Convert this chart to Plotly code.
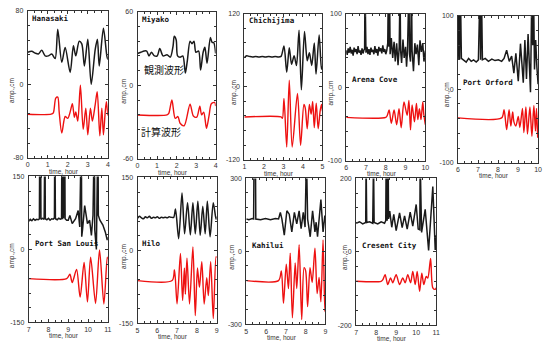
import plotly.graph_objects as go

# ---------------- data (hours, cm) ----------------
hanasaki_obs_t = [0, 0.2, 0.37, 0.53, 0.7, 0.87, 1.03, 1.2, 1.37, 1.5, 1.7, 1.87, 2.12, 2.28, 2.4, 2.57, 2.7, 2.83, 3.0, 3.17, 3.37, 3.48, 3.57, 3.78, 3.95, 4.0]
hanasaki_obs_v = [35, 36, 34, 33, 37, 31, 31, 33, 28, 60, 24, 40, 13, 42, 31, 47, 44, 20, 49, 0, 38, 49, 20, 61, 31, 27]
hanasaki_calc_t = [0, 1.17, 1.28, 1.4, 1.5, 1.57, 1.7, 1.87, 2.0, 2.12, 2.23, 2.33, 2.4, 2.5, 2.63, 2.77, 2.9, 3.0, 3.13, 3.23, 3.37, 3.47, 3.6, 3.7, 3.78, 3.87, 3.93, 4.0]
hanasaki_calc_v = [-32.5, -32.5, -31, -15, -14, -30, -53, -35, -37, -30, -21, -36, -30, -40, -1, -49, -26, -55, -26, -40, -22, -8, -56, -26, -55, -30, -19, -34]

miyako_obs_t = [0.0, 0.17, 0.34, 0.47, 0.59, 0.71, 0.87, 1.01, 1.14, 1.31, 1.51, 1.68, 1.82, 1.88, 1.98, 2.05, 2.18, 2.32, 2.45, 2.55, 2.69, 2.79, 2.89, 2.99, 3.13, 3.23, 3.36, 3.45, 3.56, 3.73, 3.82, 3.9, 4.0]
miyako_obs_v = [26, 27, 28, 28, 24, 27, 24, 24, 30, 24, 25, 23, 32, 40, 37, 24, 23, 24, 10, 20, 36, 34, 36, 27, 28, 12.5, 27, 31, 18, 39, 35, 35, 26]
miyako_calc_t = [0, 1.51, 1.6, 1.76, 1.93, 2.07, 2.18, 2.39, 2.69, 2.86, 3.03, 3.19, 3.28, 3.39, 3.53, 3.66, 3.78, 3.95, 4.0]
miyako_calc_v = [-24.2, -24.2, -23, -12, -27, -25.5, -31, -33, -15.4, -25, -26, -17, -24, -22, -35, -25, -15, -14, -17]

chichijima_obs_t = [1.0, 1.12, 1.25, 1.42, 1.58, 1.75, 1.92, 2.08, 2.25, 2.42, 2.58, 2.75, 2.88, 3.03, 3.17, 3.3, 3.42, 3.55, 3.67, 3.8, 3.92, 4.08, 4.22, 4.33, 4.45, 4.58, 4.67, 4.83, 4.95, 5.0]
chichijima_obs_v = [48, 51, 50, 49, 50, 49, 50, 49, 50, 49, 50, 49, 50, 67, 24, 64, 37, 51, 35, 93, -5, 91, 43, 56, 35, 72, 21, 85, 29, 34]
chichijima_calc_t = [1.0, 2.88, 2.95, 3.03, 3.17, 3.3, 3.45, 3.72, 3.88, 4.05, 4.12, 4.22, 4.33, 4.42, 4.5, 4.58, 4.68, 4.78, 4.88, 4.95, 5.0]
chichijima_calc_v = [-49.6, -49.6, -52, -19, -99, 11, -99, -11, -96, -29, -35, -69, -29, -45, -24, -67, -27, -69, -40, -29, -40]

arena_obs_t = [6.00, 6.05, 6.10, 6.15, 6.20, 6.25, 6.30, 6.35, 6.40, 6.45, 6.50, 6.55, 6.60, 6.65, 6.70, 6.75, 6.80, 6.85, 6.90, 6.93, 6.95, 6.97,
               7.00, 7.05, 7.10, 7.15, 7.20, 7.25, 7.30, 7.35, 7.40, 7.45, 7.50, 7.55, 7.60, 7.65, 7.70, 7.75, 7.80, 7.85, 7.90, 7.95, 8.00, 8.05,
               8.10, 8.13, 8.16, 8.19, 8.22, 8.28, 8.35, 8.42, 8.48, 8.55, 8.62, 8.68, 8.72, 8.75, 8.80, 8.87, 8.93, 9.00, 9.05, 9.10, 9.17, 9.20,
               9.25, 9.30, 9.33, 9.40, 9.47, 9.53, 9.60, 9.67, 9.73, 9.80, 9.87, 9.93, 10.0]
arena_obs_v = [50, 44, 53, 47, 55, 46, 51, 43, 54, 48, 52, 45, 56, 47, 50, 44, 53, 46, 51, 52, 140, 50,
               47, 55, 45, 52, 44, 54, 48, 51, 45, 56, 47, 52, 43, 55, 49, 53, 46, 57, 48, 52, 45, 50,
               60, 140, 55, 140, 45, 67, 40, 62, 35, 60, 30, 55, 140, 50, 33, 65, 40, 55, 28, 50, 140, 45,
               35, 140, 50, 22, 60, 45, 58, 30, 64, 48, 60, 35, 50]
arena_calc_t = [6.0, 8.0, 8.08, 8.17, 8.28, 8.42, 8.55, 8.67, 8.78, 8.92, 9.08, 9.17, 9.25, 9.33, 9.45, 9.55, 9.62, 9.7, 9.78, 9.87, 9.92, 10.0]
arena_calc_v = [-41, -41, -38, -31, -49, -31, -51, -29, -55, -20, -38, -18, -58, -24, -47, -22, -44, -29, -44, -20, -36, -51]

orford_obs_t = [6.0, 6.05, 6.08, 6.12, 6.17, 6.28, 6.41, 6.53, 6.66, 6.78, 6.91, 7.02, 7.1, 7.13, 7.17, 7.22, 7.36, 7.52, 7.69, 7.85, 8.02, 8.18, 8.3, 8.43, 8.56, 8.68, 8.79, 8.89, 9.01, 9.12, 9.26, 9.34, 9.42, 9.5, 9.62, 9.69, 9.73, 9.77, 9.82, 9.88, 9.94, 10.0]
orford_obs_v = [40, 140, 40, 140, 42, 40, 37, 42, 38, 40, 37, 40, 140, 40, 140, 40, 42, 38, 41, 39, 40, 38, 42, 53, 38, 45, 22, 49, 11, 62, 9, 67, 14, 75, -4, 140, 60, 140, 27, 67, 30, 7]
orford_calc_t = [6.0, 8.18, 8.3, 8.43, 8.55, 8.64, 8.73, 8.79, 8.89, 9.01, 9.09, 9.22, 9.29, 9.39, 9.47, 9.59, 9.69, 9.79, 9.87, 9.92, 9.98]
orford_calc_v = [-39, -39, -28, -55, -28, -50, -31, -44, -50, -37, -52, -26, -59, -24, -61, -24, -64, -22, -57, -26, -66]

psl_obs_t = [7.0, 7.08, 7.16, 7.24, 7.32, 7.4, 7.48, 7.54, 7.56, 7.6, 7.62, 7.7, 7.78, 7.82, 7.84, 7.92, 8.0, 8.08, 8.16, 8.24, 8.3, 8.32, 8.35, 8.44, 8.52, 8.6, 8.66, 8.68, 8.71, 8.73, 8.76, 8.82, 8.84, 8.92,
             9.0, 9.08, 9.2, 9.37, 9.5, 9.58, 9.66, 9.68, 9.72, 9.83, 9.97, 10.08, 10.17, 10.25, 10.32, 10.34, 10.42, 10.46, 10.5, 10.52, 10.6, 10.75, 10.87, 10.97, 11.0]
psl_obs_v = [58, 62, 59, 63, 60, 62, 61, 63, 250, 250, 62, 64, 62, 250, 63, 61, 64, 60, 63, 62, 65, 250, 63, 61, 64, 62, 63, 250, 62, 250, 64, 250, 63, 60,
             60, 70, 53, 63, 80, 46, 250, 26, 40, 90, 53, 60, 29, 70, 250, 40, 0, 250, 250, 70, 60, 50, 36, 19, 25]
psl_calc_t = [7.0, 8.92, 9.08, 9.2, 9.42, 9.6, 9.8, 9.97, 10.13, 10.38, 10.58, 10.8, 10.97, 11.0]
psl_calc_v = [-60, -60, -51, -68, -41, -98, -27, -108, -16, -111, -1, -112, -16, -20]

hilo_obs_t = [5.0, 5.1, 5.2, 5.3, 5.4, 5.5, 5.6, 5.7, 5.8, 5.9, 6.0, 6.1, 6.2, 6.3, 6.4, 6.5, 6.6, 6.7, 6.83, 6.92, 7.08, 7.25, 7.38, 7.53, 7.67, 7.8, 7.92, 8.05, 8.17, 8.3, 8.42, 8.53, 8.67, 8.83, 8.97, 9.0]
hilo_obs_v = [66, 70, 67, 65, 69, 67, 70, 66, 68, 67, 69, 66, 68, 67, 68, 67, 69, 68, 68, 85, 24, 118, 34, 98, 32, 98, 34, 101, 31, 91, 34, 101, 28, 98, 64, 70]
hilo_calc_t = [5.0, 6.75, 6.87, 7.0, 7.17, 7.28, 7.37, 7.42, 7.5, 7.63, 7.8, 7.92, 8.03, 8.13, 8.25, 8.37, 8.5, 8.58, 8.7, 8.83, 8.97, 9.0]
hilo_calc_v = [-62, -62, -40, -110, -6, -103, -36, -90, -16, -110, 7, -134, -36, -76, -23, -110, -56, -93, -23, -140, -13, -15]

kahului_obs_t = [5.0, 5.13, 5.3, 5.37, 5.39, 5.46, 5.48, 5.52, 5.72, 5.97, 6.22, 6.47, 6.63, 6.72, 6.8, 6.92, 7.05, 7.17, 7.3, 7.43, 7.55, 7.67, 7.77, 7.88, 7.97, 8.04, 8.06, 8.1, 8.23, 8.35, 8.47, 8.53, 8.6, 8.77, 8.88, 8.97, 9.0]
kahului_obs_v = [133, 130, 135, 133, 400, 400, 133, 133, 130, 135, 130, 135, 133, 160, 133, 67, 167, 153, 80, 160, 113, 167, 93, 160, 100, 400, 400, 133, 60, 167, 80, 120, 60, 213, 80, 147, 140]
kahului_calc_t = [5.0, 6.63, 6.77, 6.88, 7.02, 7.13, 7.22, 7.33, 7.47, 7.55, 7.67, 7.8, 7.92, 8.0, 8.1, 8.22, 8.33, 8.47, 8.58, 8.68, 8.77, 8.88, 8.97, 9.0]
kahului_calc_v = [-120, -120, -80, -213, -53, -153, -7, -273, -47, -153, 27, -280, -67, -80, -227, -67, -127, 13, -173, -107, -207, 47, -247, -200]

crescent_obs_t = [7.0, 7.17, 7.33, 7.48, 7.5, 7.53, 7.67, 7.83, 7.87, 7.9, 8.08, 8.25, 8.42, 8.48, 8.5, 8.55, 8.6, 8.62, 8.68, 8.78, 8.88, 9.0, 9.17, 9.3, 9.42, 9.55, 9.7, 9.83, 10.0, 10.1, 10.18, 10.2, 10.27, 10.45, 10.62, 10.83, 10.95, 11.0]
crescent_obs_v = [78, 82, 76, 80, 250, 80, 82, 78, 250, 80, 76, 82, 78, 85, 250, 85, 250, 90, 111, 67, 102, 58, 106, 66, 98, 62, 108, 70, 129, 62, 60, 250, 53, 116, 4, 178, 5, 45]
crescent_calc_t = [7.0, 8.25, 8.33, 8.45, 8.58, 8.72, 8.83, 9.0, 9.17, 9.33, 9.45, 9.58, 9.72, 9.83, 9.95, 10.05, 10.17, 10.28, 10.38, 10.5, 10.58, 10.72, 10.83, 10.95, 11.0]
crescent_calc_v = [-80, -80, -76, -62, -89, -71, -84, -62, -89, -71, -84, -62, -84, -53, -89, -53, -107, -58, -89, -67, -71, -18, -98, -102, -98]

station_names = ["Hanasaki", "Miyako", "Chichijima", "Arena Cove", "Port Orford",
                 "Port San Louis", "Hilo", "Kahilui", "Cresent City"]
x_ranges = [(0, 4), (0, 4), (1, 5), (6, 10), (6, 10), (7, 11), (5, 9), (5, 9), (7, 11)]
y_limits = [80, 60, 120, 100, 100, 150, 150, 300, 200]
obs_series = [(hanasaki_obs_t, hanasaki_obs_v), (miyako_obs_t, miyako_obs_v), (chichijima_obs_t, chichijima_obs_v),
              (arena_obs_t, arena_obs_v), (orford_obs_t, orford_obs_v), (psl_obs_t, psl_obs_v),
              (hilo_obs_t, hilo_obs_v), (kahului_obs_t, kahului_obs_v), (crescent_obs_t, crescent_obs_v)]
calc_series = [(hanasaki_calc_t, hanasaki_calc_v), (miyako_calc_t, miyako_calc_v), (chichijima_calc_t, chichijima_calc_v),
               (arena_calc_t, arena_calc_v), (orford_calc_t, orford_calc_v), (psl_calc_t, psl_calc_v),
               (hilo_calc_t, hilo_calc_v), (kahului_calc_t, kahului_calc_v), (crescent_calc_t, crescent_calc_v)]
obs_label = "観測波形"
calc_label = "計算波形"
x_title = "time, hour"
y_title = "amp.,cm"

# ---------------- layout (pixel boxes) ----------------
W, H = 551, 346
boxes = [(26, 107, 7, 157), (137, 216, 8, 158), (245, 324, 10, 159), (348, 428, 10, 160), (461, 542, 12, 162),
         (27, 107, 176, 325), (137, 217, 177, 326), (247, 327, 178, 327), (358, 439, 178, 328)]
name_pos = [(28, 15), (140, 16), (248, 17), (352, 77), (464, 80), (31, 244), (140, 244), (251, 246), (362, 246)]
ytitle_x = [10, 124, 234, 333, 450, 10, 124, 233, 347]
linear_obs = [False, False, False, True, True, True, False, True, True]

fig = go.Figure()
layout = dict(width=W, height=H, margin=dict(l=0, r=0, t=0, b=0), paper_bgcolor="white",
              plot_bgcolor="white", showlegend=False)
annotations = []
tickfont = dict(family="Liberation Sans", size=7, color="#333")

for i in range(9):
    x0, x1, y0, y1 = boxes[i]
    xa = "xaxis" if i == 0 else f"xaxis{i+1}"
    ya = "yaxis" if i == 0 else f"yaxis{i+1}"
    xr = "x" if i == 0 else f"x{i+1}"
    yr = "y" if i == 0 else f"y{i+1}"
    m = y_limits[i]
    lo, hi = x_ranges[i]
    layout[xa] = dict(domain=[x0 / W, x1 / W], range=[lo, hi], anchor=yr,
                      tickmode="array", tickvals=list(range(lo, hi + 1)),
                      ticktext=[str(v) for v in range(lo, hi + 1)],
                      ticks="inside", ticklen=3, tickcolor="#333", tickwidth=1,
                      minor=dict(tickmode="linear", tick0=lo, dtick=1/3, ticks="inside", ticklen=2, tickcolor="#333"),
                      showline=True, linecolor="#333", linewidth=1, mirror="ticks",
                      showgrid=False, zeroline=False, tickfont=tickfont, ticklabelstandoff=0)
    layout[ya] = dict(domain=[1 - y1 / H, 1 - y0 / H], range=[-m, m], anchor=xr,
                      tickmode="array", tickvals=[-m, 0, m], ticktext=[str(-m), "0", str(m)],
                      ticks="inside", ticklen=3, tickcolor="#333", tickwidth=1,
                      minor=dict(tickmode="linear", tick0=0, dtick=m / 5, ticks="inside", ticklen=2, tickcolor="#333"),
                      showline=True, linecolor="#333", linewidth=1, mirror="ticks",
                      showgrid=False, zeroline=False, tickfont=tickfont, ticklabelstandoff=2)
    ot, ov = obs_series[i]
    ct, cv = calc_series[i]
    fig.add_trace(go.Scatter(x=ot, y=ov, xaxis=xr, yaxis=yr, mode="lines",
                             line=dict(color="#1a1a1a", width=1.5,
                                       shape="linear" if linear_obs[i] else "spline", smoothing=0.8)))
    fig.add_trace(go.Scatter(x=ct, y=cv, xaxis=xr, yaxis=yr, mode="lines",
                             line=dict(color="#ee1111", width=1.4, shape="spline", smoothing=0.8)))
    nx, ny = name_pos[i]
    annotations.append(dict(text="<b>" + station_names[i] + "</b>", x=nx / W, y=1 - ny / H, xref="paper", yref="paper",
                            xanchor="left", yanchor="middle", showarrow=False,
                            font=dict(family="DejaVu Sans Mono", size=7.5, color="#111")))
    annotations.append(dict(text=x_title, x=((x0 + x1) / 2 - 4) / W, y=1 - (y1 + 13.5) / H, xref="paper", yref="paper",
                            xanchor="center", yanchor="middle", showarrow=False,
                            font=dict(family="Liberation Sans", size=6.5, color="#333")))
    annotations.append(dict(text=y_title, x=ytitle_x[i] / W, y=1 - ((y0 + y1) / 2 + 6) / H, xref="paper", yref="paper",
                            xanchor="center", yanchor="middle", showarrow=False, textangle=-90,
                            font=dict(family="Liberation Sans", size=6.5, color="#333")))

annotations.append(dict(text=obs_label, x=164 / W, y=1 - 67 / H, xref="paper", yref="paper",
                        xanchor="center", yanchor="middle", showarrow=False,
                        font=dict(family="Noto Sans CJK JP", size=10, color="#111")))
annotations.append(dict(text=calc_label, x=161 / W, y=1 - 130 / H, xref="paper", yref="paper",
                        xanchor="center", yanchor="middle", showarrow=False,
                        font=dict(family="Noto Sans CJK JP", size=10, color="#111")))
layout["annotations"] = annotations
fig.update_layout(**layout)
fig.write_html("out.html")
